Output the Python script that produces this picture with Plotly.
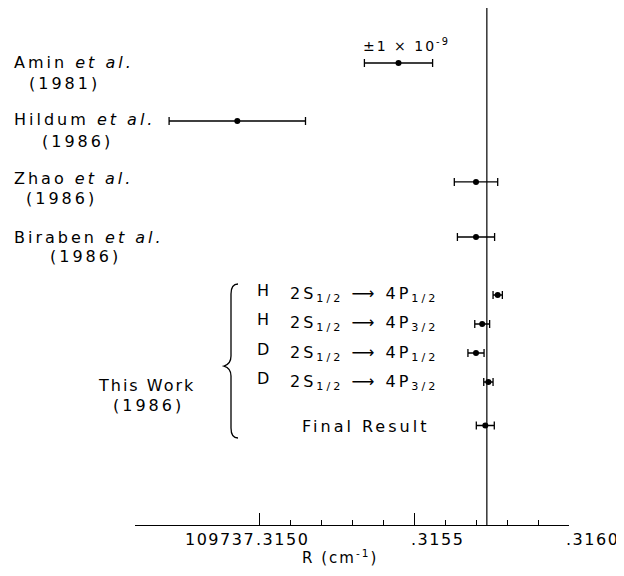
import plotly.graph_objects as go

# ---------------- data ----------------
studies = ["Amin et al. (1981)", "Hildum et al. (1986)", "Zhao et al. (1986)",
           "Biraben et al. (1986)", "H 2S1/2-4P1/2", "H 2S1/2-4P3/2",
           "D 2S1/2-4P1/2", "D 2S1/2-4P3/2", "Final Result"]
r_values = [109737.31545, 109737.31493, 109737.31570, 109737.31570,
            109737.31577, 109737.31572, 109737.31570, 109737.31574,
            109737.31573]
r_errors = [0.00011, 0.00022, 0.00007, 0.00006,
            0.000015, 0.000024, 0.000026, 0.000015, 0.000029]
reference_value = 109737.315735
major_ticks = [109737.3150, 109737.3155, 109737.3160]
major_tick_labels = ["109737.3150", ".3155", ".3160"]
minor_ticks = [109737.3151, 109737.3152, 109737.3153, 109737.3154,
               109737.3156, 109737.3157, 109737.3158, 109737.3159]

# ---------------- layout constants ----------------
# the page has an 8px body margin; the figure is sized to fit the window
OFF = 8
W, H = 616, 560
PL, PR, PT, PB = 135, 569, 8, 525          # plot area in page pixels
L, R, T, B = PL - OFF, W - (PR - OFF), PT - OFF, H - (PB - OFF)
PW, PH = PR - PL, PB - PT
ROW_PX = 29.0
row_pos = [0, 2, 4.1, 6, 8, 9, 10, 11, 12.5]
y_top = -(63 - PT) / ROW_PX
Y_RANGE = [y_top + PH / ROW_PX, y_top]
FONT = "DejaVu Sans"


def px(x):
    return (x - PL) / PW


def py(y):
    return 1 - (y - PT) / PH


def sp(text, ls=3):
    return f'<span style="letter-spacing:{ls}px">{text}</span>'


fig = go.Figure()
fig.add_trace(go.Scatter(
    x=r_values, y=row_pos, mode="markers",
    marker=dict(color="black", size=6),
    error_x=dict(type="data", array=r_errors, visible=True,
                 color="black", thickness=1.3, width=4),
    text=studies, hoverinfo="text+x", showlegend=False))

shapes = [dict(type="line", xref="x", yref="paper", x0=reference_value,
               x1=reference_value, y0=0, y1=1,
               line=dict(color="black", width=1.2))]

# curly brace grouping "This Work"
bp = [(238, 284), (231, 284), (231, 294), (231, 356), (231, 364), (224, 366),
      (231, 368), (231, 376), (231, 428), (231, 438), (238, 438)]
q = [(px(a), py(b)) for a, b in bp]
path = (f"M {q[0][0]},{q[0][1]} Q {q[1][0]},{q[1][1]} {q[2][0]},{q[2][1]} "
        f"L {q[3][0]},{q[3][1]} Q {q[4][0]},{q[4][1]} {q[5][0]},{q[5][1]} "
        f"Q {q[6][0]},{q[6][1]} {q[7][0]},{q[7][1]} "
        f"L {q[8][0]},{q[8][1]} Q {q[9][0]},{q[9][1]} {q[10][0]},{q[10][1]}")
shapes.append(dict(type="path", xref="paper", yref="paper", path=path,
                   line=dict(color="black", width=1.3)))

ann = []


def add(text, x, y, xanchor="left", size=16, ls=3):
    ann.append(dict(text=sp(text, ls), x=x, y=y, xref="paper", yref="paper",
                    xanchor=xanchor, yanchor="middle", showarrow=False,
                    font=dict(family=FONT, size=size, color="black")))


# literature labels
add("Amin <i>et al.</i>", px(12), py(62))
add("(1981)", px(64), py(83), xanchor="center")
add("Hildum <i>et al.</i>", px(12), py(120))
add("(1986)", px(77), py(141), xanchor="center")
add("Zhao <i>et al.</i>", px(12), py(178))
add("(1986)", px(61), py(198), xanchor="center")
add("Biraben <i>et al.</i>", px(12), py(237))
add("(1986)", px(85), py(256), xanchor="center")
add("±1 × 10<sup>-9</sup>", px(361), py(45), size=14, ls=2)

# this work
add("This Work", px(146), py(385), xanchor="center", ls=2)
add("(1986)", px(148), py(405), xanchor="center")
trans = ["2S<sub>1/2</sub> ⟶ 4P<sub>1/2</sub>", "2S<sub>1/2</sub> ⟶ 4P<sub>3/2</sub>",
         "2S<sub>1/2</sub> ⟶ 4P<sub>1/2</sub>", "2S<sub>1/2</sub> ⟶ 4P<sub>3/2</sub>"]
iso = ["H", "H", "D", "D"]
for i in range(4):
    ypx = [290, 319, 349, 378][i]
    add(iso[i], px(255), py(ypx))
    add(trans[i], px(288), py(ypx + 4), ls=3)
add("Final Result", px(300), py(426))

# tick labels (decimal point aligned to tick)
ann.append(dict(text=sp("109737", 1.5), x=major_ticks[0], y=py(539), xref="x",
                yref="paper", xanchor="right", yanchor="middle", xshift=-2,
                showarrow=False, font=dict(family=FONT, size=16, color="black")))
for v, t in zip(major_ticks, ["." + major_tick_labels[0].split(".")[1]] +
                major_tick_labels[1:]):
    ann.append(dict(text=sp(t, 1.5), x=v, y=py(539), xref="x", yref="paper",
                    xanchor="left", yanchor="middle", xshift=-5,
                    showarrow=False,
                    font=dict(family=FONT, size=16, color="black")))
add("R (cm<sup>-1</sup>)", px(340), py(557), xanchor="center", size=15, ls=2)

fig.update_layout(
    width=W, height=H, margin=dict(l=L, r=R, t=T, b=B),
    plot_bgcolor="white", paper_bgcolor="white",
    shapes=shapes, annotations=ann,
    xaxis=dict(range=[109737.3146, 109737.3160], showgrid=False,
               zeroline=False, showline=True, linecolor="black", linewidth=1.3,
               ticks="inside", ticklen=12, tickwidth=1.2, tickcolor="black",
               tickmode="array", tickvals=major_ticks, ticktext=major_tick_labels,
               showticklabels=False,
               minor=dict(tickmode="array", tickvals=minor_ticks, ticks="inside",
                          ticklen=5, tickwidth=1.2, tickcolor="black")),
    yaxis=dict(range=Y_RANGE, visible=False, showgrid=False, zeroline=False),
)

fig.write_html("out.html")
